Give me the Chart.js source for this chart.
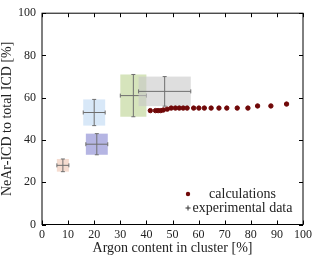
<!DOCTYPE html>
<html>
<head>
<meta charset="utf-8">
<style>
  html, body { margin: 0; padding: 0; background: #fff; }
  #wrap { width: 315px; height: 256px; }
</style>
</head>
<body>
<div id="wrap"><canvas id="chart"></canvas></div>
<script src="https://cdn.jsdelivr.net/npm/chart.js@4.4.0/dist/chart.umd.min.js"></script>
<script>
// calculated share of NeAr-ICD vs argon content
const calcX = [41.5, 43.5, 44.5, 45.5, 46.5, 48.0, 49.5, 51.1, 52.6, 54.1, 55.6, 58.1, 60.1, 62.2, 64.8, 67.8, 70.8, 74.8, 78.9, 82.6, 87.7, 93.7];
const calcY = [53.9, 53.9, 53.9, 53.9, 54.2, 54.6, 55.1, 55.1, 55.1, 55.1, 55.1, 55.1, 55.1, 55.1, 55.1, 55.1, 55.1, 55.1, 55.1, 56.1, 56.1, 57.0];

// experimental points with error ranges
const expX = [8, 21, 20, 35, 47];
const expY = [28, 38, 53, 61, 63];
const expXErr = [2.3, 4.2, 4.2, 5, 10];
const expYErr = [3, 5, 6.2, 10, 7];

const xTicks = [0, 10, 20, 30, 40, 50, 60, 70, 80, 90, 100];
const yTicks = [0, 20, 40, 60, 80, 100];

const boxColors = [
  'rgba(238, 196, 176, 0.6)',
  'rgba(150, 150, 215, 0.7)',
  'rgba(200, 222, 245, 0.7)',
  'rgba(196, 216, 160, 0.7)',
  'rgba(200, 200, 200, 0.6)'
];

const serif = 'Liberation Serif';
const calcColor = '#700808';

// shaded boxes + error bars for the experimental data
const expPlugin = {
  id: 'expBoxes',
  beforeDatasetsDraw(chart) {
    const { ctx, scales: { x, y } } = chart;
    ctx.save();
    expX.forEach((v, i) => {
      const l = x.getPixelForValue(v - expXErr[i]);
      const r = x.getPixelForValue(v + expXErr[i]);
      const t = y.getPixelForValue(expY[i] + expYErr[i]);
      const b = y.getPixelForValue(expY[i] - expYErr[i]);
      const cx = x.getPixelForValue(v);
      const cy = y.getPixelForValue(expY[i]);
      ctx.fillStyle = boxColors[i];
      ctx.fillRect(l, t, r - l, b - t);

      ctx.strokeStyle = '#6f6f6f';
      ctx.lineWidth = 1;
      ctx.beginPath();
      ctx.moveTo(l, cy); ctx.lineTo(r, cy);
      ctx.moveTo(l, cy - 2); ctx.lineTo(l, cy + 2);
      ctx.moveTo(r, cy - 2); ctx.lineTo(r, cy + 2);
      ctx.moveTo(cx, t); ctx.lineTo(cx, b);
      ctx.moveTo(cx - 2, t); ctx.lineTo(cx + 2, t);
      ctx.moveTo(cx - 2, b); ctx.lineTo(cx + 2, b);
      ctx.stroke();
    });
    ctx.restore();
  }
};

// frame, inner ticks and the legend
const framePlugin = {
  id: 'frame',
  afterDraw(chart) {
    const { ctx, chartArea: a, scales: { x, y } } = chart;
    ctx.save();
    ctx.strokeStyle = '#000';
    ctx.lineWidth = 1;
    ctx.strokeRect(a.left, a.top, a.right - a.left, a.bottom - a.top);
    ctx.beginPath();
    xTicks.forEach(t => {
      const px = Math.round(x.getPixelForValue(t)) + 0.5;
      ctx.moveTo(px, a.bottom); ctx.lineTo(px, a.bottom - 4);
      ctx.moveTo(px, a.top); ctx.lineTo(px, a.top + 4);
    });
    yTicks.forEach(t => {
      const py = Math.round(y.getPixelForValue(t)) + 0.5;
      ctx.moveTo(a.left, py); ctx.lineTo(a.left + 4, py);
      ctx.moveTo(a.right, py); ctx.lineTo(a.right - 4, py);
    });
    ctx.stroke();

    // legend
    ctx.fillStyle = calcColor;
    ctx.beginPath();
    ctx.arc(188, 194, 2.2, 0, Math.PI * 2);
    ctx.fill();
    ctx.strokeStyle = '#333';
    ctx.beginPath();
    ctx.moveTo(185.5, 208); ctx.lineTo(190.5, 208);
    ctx.moveTo(188, 205.5); ctx.lineTo(188, 210.5);
    ctx.stroke();
    ctx.fillStyle = '#222';
    ctx.font = '14px "' + serif + '"';
    ctx.textAlign = 'center';
    ctx.textBaseline = 'middle';
    ctx.fillText('calculations', 242.5, 194);
    ctx.fillText('experimental data', 242.5, 208);
    ctx.restore();
  }
};

new Chart(document.getElementById('chart'), {
  type: 'scatter',
  data: {
    datasets: [
      {
        label: 'calculations',
        data: calcX.map((v, i) => ({ x: v, y: calcY[i] })),
        backgroundColor: calcColor,
        borderColor: calcColor,
        pointRadius: 2.2,
        pointHoverRadius: 2.2
      }
    ]
  },
  options: {
    responsive: true,
    maintainAspectRatio: false,
    animation: false,
    layout: { padding: { left: 0, right: 8, top: 5, bottom: 0 } },
    plugins: {
      legend: { display: false },
      tooltip: { enabled: false }
    },
    scales: {
      x: {
        type: 'linear',
        min: 0,
        max: 100,
        afterFit: s => { s.height = 31.5; },
        afterBuildTicks: s => { s.ticks = xTicks.map(v => ({ value: v })); },
        grid: { display: false, drawTicks: false },
        border: { display: false },
        ticks: { color: '#222', padding: 3, maxRotation: 0, font: { family: serif, size: 12 } },
        title: {
          display: true,
          text: 'Argon content in cluster [%]',
          color: '#222',
          padding: 0,
          font: { family: serif, size: 14, lineHeight: 1.1 }
        }
      },
      y: {
        type: 'linear',
        min: 0,
        max: 100,
        afterFit: s => { s.width = 42; },
        afterBuildTicks: s => { s.ticks = yTicks.map(v => ({ value: v })); },
        grid: { display: false, drawTicks: false },
        border: { display: false },
        ticks: { color: '#222', padding: 6, font: { family: serif, size: 12 } },
        title: {
          display: true,
          text: 'NeAr-ICD to total ICD [%]',
          color: '#222',
          padding: 0,
          font: { family: serif, size: 14, lineHeight: 1 }
        }
      }
    }
  },
  plugins: [expPlugin, framePlugin]
});
</script>
</body>
</html>
